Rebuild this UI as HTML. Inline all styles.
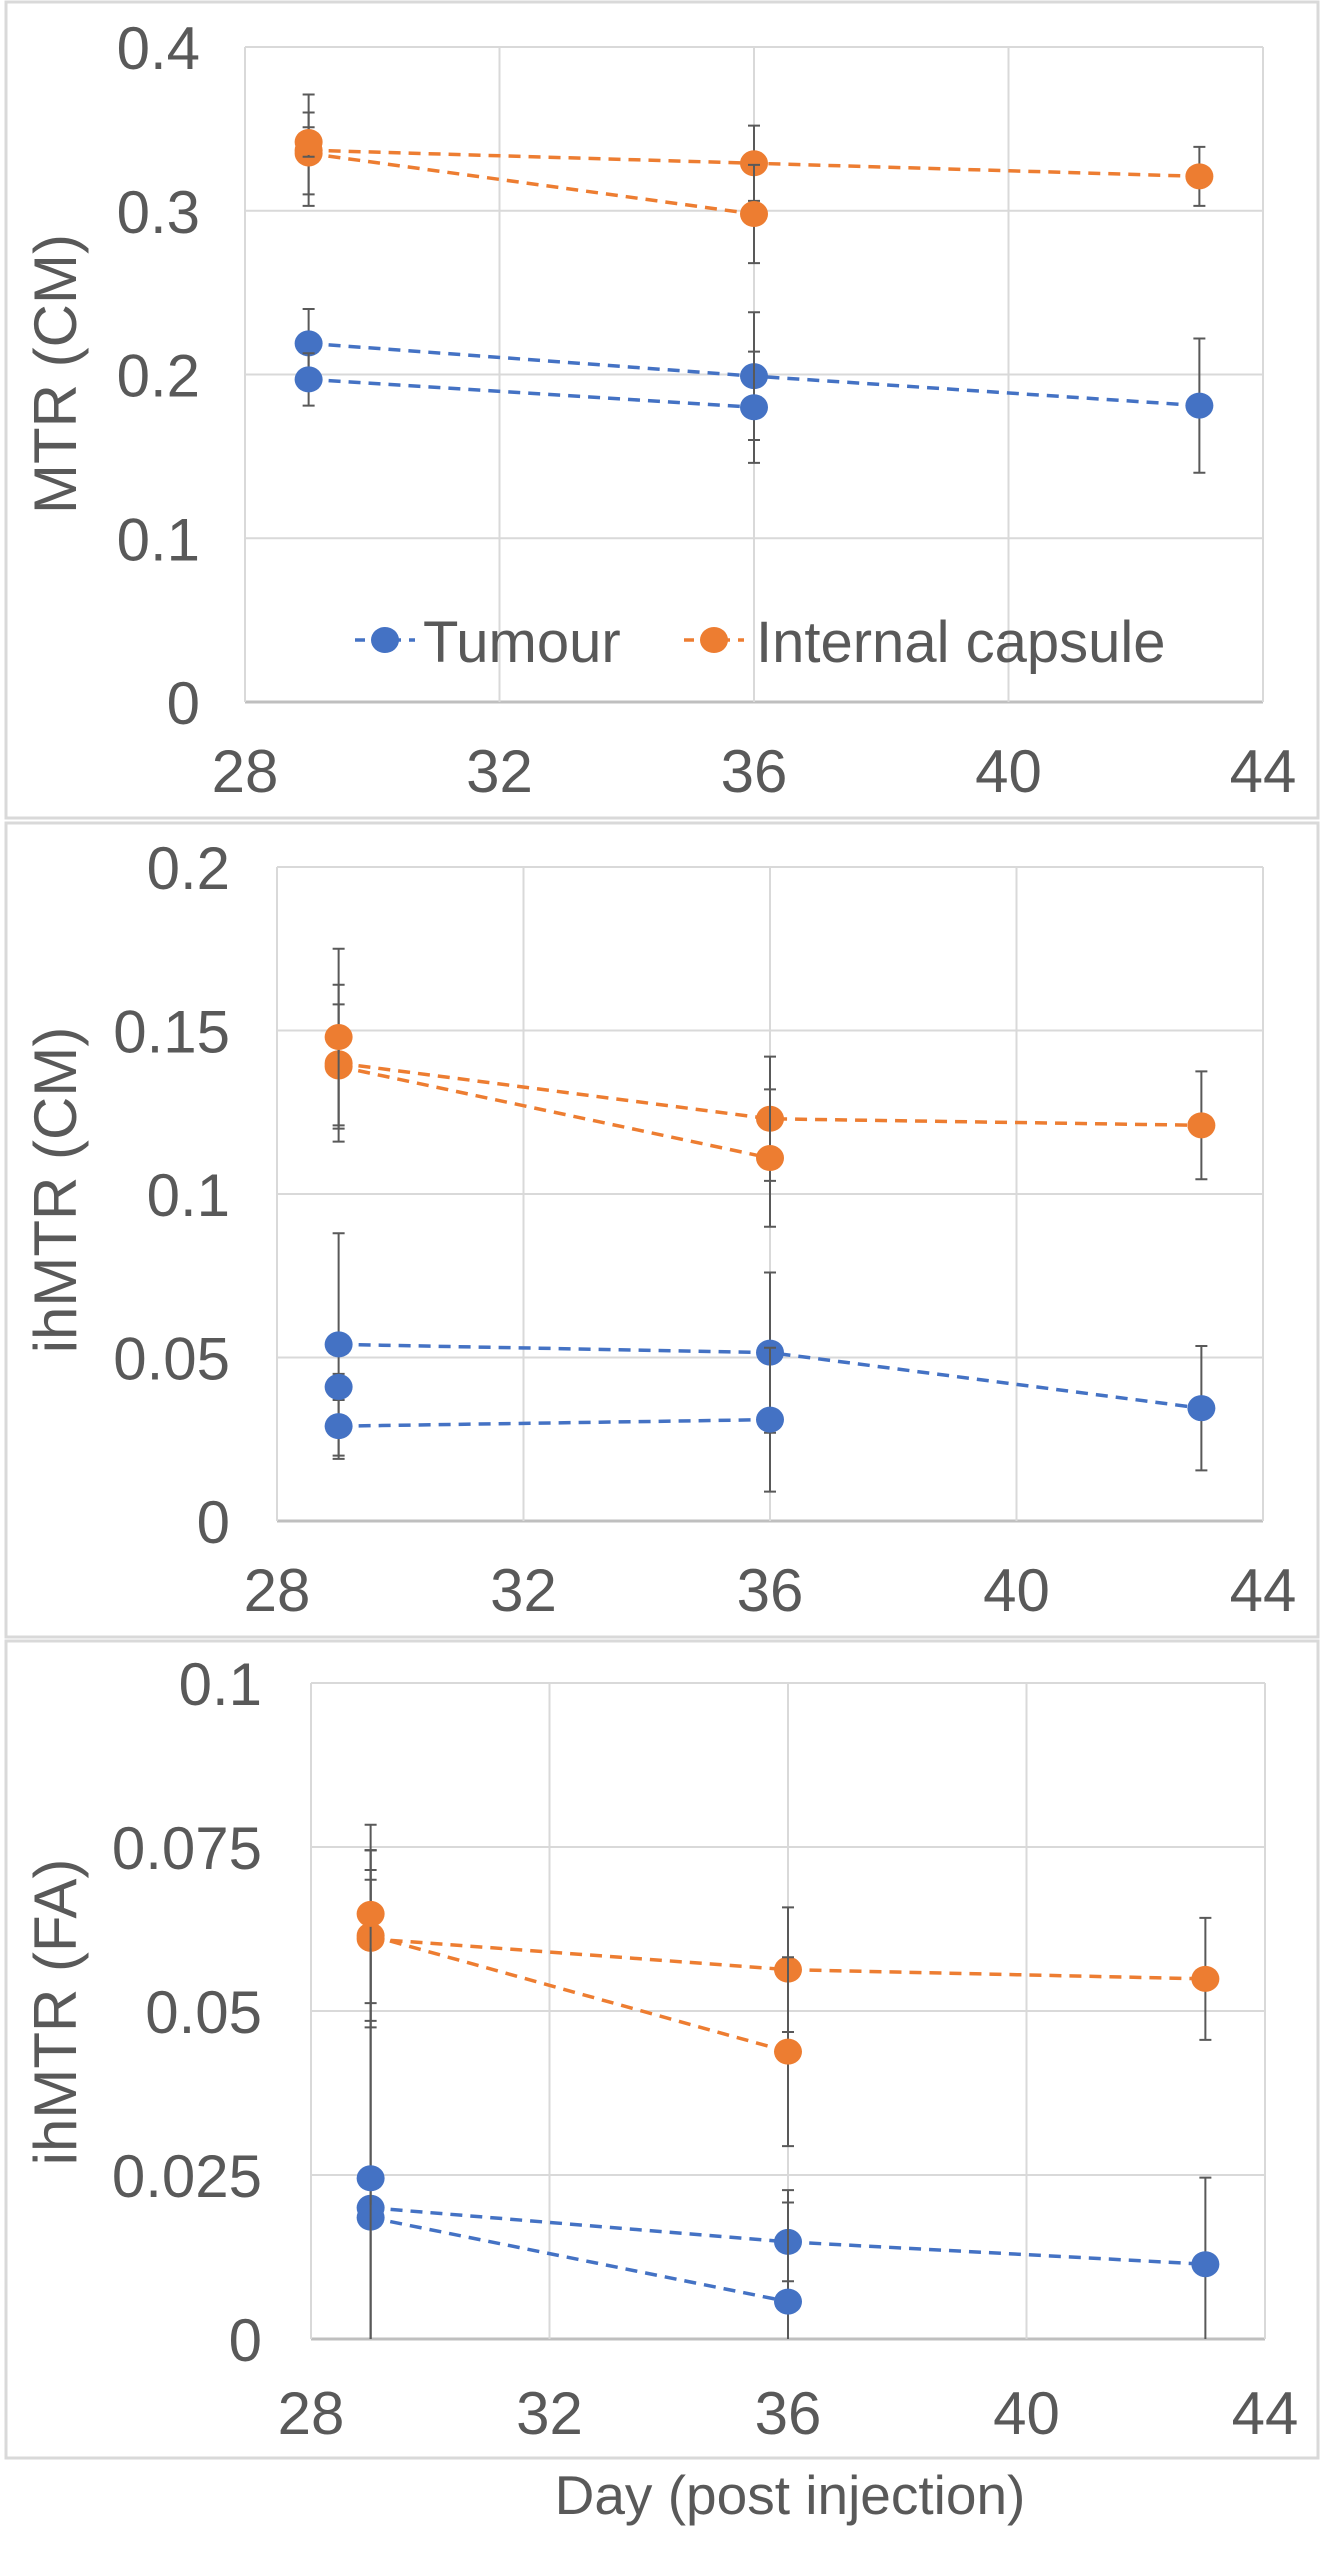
<!DOCTYPE html>
<html><head><meta charset="utf-8"><style>
html,body{margin:0;padding:0;background:#fff;}
svg{display:block;font-family:"Liberation Sans",Arial,sans-serif;}
</style></head><body>
<svg id="fig" width="1324" height="2557" viewBox="0 0 1324 2557">
<rect x="6" y="2" width="1312" height="816" fill="#fff" stroke="#d9d9d9" stroke-width="3"/>
<rect x="6" y="823" width="1312" height="814" fill="#fff" stroke="#d9d9d9" stroke-width="3"/>
<rect x="6" y="1641" width="1312" height="817" fill="#fff" stroke="#d9d9d9" stroke-width="3"/>
<text x="790" y="2514" font-size="55" fill="#595959" text-anchor="middle">Day (post injection)</text>
</svg>
<script>
const xTicks = [28, 32, 36, 40, 44];
const xTickLabels = ["28", "32", "36", "40", "44"];
const days = [29, 36, 43];

// Chart 1: MTR (CM)
const c1Ticks = [0, 0.1, 0.2, 0.3, 0.4];
const c1TickLabels = ["0", "0.1", "0.2", "0.3", "0.4"];
const c1TumourA = [0.219, 0.199, 0.181];
const c1TumourAErr = [0.021, 0.039, 0.041];
const c1TumourB = [0.197, 0.180];
const c1TumourBErr = [0.016, 0.034];
const c1CapsA = [0.337, 0.329, 0.321];
const c1CapsAErr = [0.034, 0.023, 0.018];
const c1CapsB = [0.335, 0.298];
const c1CapsBErr = [0.025, 0.030];
const c1CapsC = [0.342];
const c1CapsCErr = [0.009];

// Chart 2: ihMTR (CM)
const c2Ticks = [0, 0.05, 0.1, 0.15, 0.2];
const c2TickLabels = ["0", "0.05", "0.1", "0.15", "0.2"];
const c2TumourA = [0.054, 0.0515, 0.0345];
const c2TumourAErr = [0.034, 0.0245, 0.019];
const c2TumourB = [0.029, 0.031];
const c2TumourBErr = [0.010, 0.022];
const c2TumourC = [0.041];
const c2TumourCErr = [0.004];
const c2CapsA = [0.140, 0.123, 0.121];
const c2CapsAErr = [0.024, 0.019, 0.0165];
const c2CapsB = [0.139, 0.111];
const c2CapsBErr = [0.019, 0.021];
const c2CapsC = [0.148];
const c2CapsCErr = [0.027];

// Chart 3: ihMTR (FA)
const c3Ticks = [0, 0.025, 0.05, 0.075, 0.1];
const c3TickLabels = ["0", "0.025", "0.05", "0.075", "0.1"];
const c3TumourA = [0.020, 0.0148, 0.0114];
const c3TumourAErr = [0.050, 0.006, 0.0132];
const c3TumourB = [0.0185, 0.0057];
const c3TumourBErr = [0.053, 0.017];
const c3TumourC = [0.0245];
const c3TumourCErr = [0.050];
const c3CapsA = [0.0610, 0.0563, 0.0549];
const c3CapsAErr = [0.0135, 0.0095, 0.0093];
const c3CapsB = [0.0615, 0.0438];
const c3CapsBErr = [0.0130, 0.0144];
const c3CapsC = [0.0648];
const c3CapsCErr = [0.0136];

const BLUE = "#4472C4", ORANGE = "#ED7D31";
const NS = "http://www.w3.org/2000/svg";
const svg = document.getElementById("fig");
function mk(tag, attrs, parent) {
  const e = document.createElementNS(NS, tag);
  for (const k in attrs) e.setAttribute(k, attrs[k]);
  (parent || svg).appendChild(e);
  return e;
}

function drawChart(cfg) {
  const g = mk("g", {});
  
  
  const yMax = cfg.ticks[cfg.ticks.length - 1];
  const xs = v => cfg.left + (v - xTicks[0]) / (xTicks[xTicks.length - 1] - xTicks[0]) * (cfg.right - cfg.left);
  const ys = v => cfg.bottom - v / yMax * (cfg.bottom - cfg.top);
  const clip = v => Math.max(cfg.top, Math.min(cfg.bottom, v));
  cfg.ticks.forEach((t, i) => {
    const l = mk("line", {x1: cfg.left, x2: cfg.right, y1: ys(t), y2: ys(t), stroke: i === 0 ? "#bfbfbf" : "#d9d9d9", "stroke-width": i === 0 ? 3 : 2}, g);
    
    
    const tx = mk("text", {x: cfg.labelX, y: ys(t) + 22, "font-size": 60, fill: "#595959", "text-anchor": "end"}, g);
    tx.textContent = cfg.tickLabels[i];
    
    
  });
  xTicks.forEach((t, i) => {
    const l = mk("line", {x1: xs(t), x2: xs(t), y1: cfg.top, y2: cfg.bottom, stroke: "#d9d9d9", "stroke-width": 2}, g);
    
    
    const tx = mk("text", {x: xs(t), y: cfg.xLabelY, "font-size": 60, fill: "#595959", "text-anchor": "middle"}, g);
    tx.textContent = xTickLabels[i];
    
    
  });
  const yt = mk("text", {x: 0, y: 0, "font-size": 60, fill: "#595959", "text-anchor": "middle",
    transform: "translate(" + (cfg.titleX + 22) + "," + cfg.titleY + ") rotate(-90)"}, g);
  yt.textContent = cfg.title;
  
  
  cfg.series.forEach(s => {
    const sg = mk("g", {}, g);
    
    
    const pts = s.vals.map((v, i) => [xs(days[i]), ys(v)]);
    s.vals.forEach((v, i) => {
      const x = xs(days[i]);
      const hi = clip(ys(v + s.err[i])), lo = clip(ys(v - s.err[i]));
      const eb = mk("path", {d: "M" + x + " " + hi + "V" + lo + (ys(v + s.err[i]) >= cfg.top ? "M" + (x - 6) + " " + hi + "h12" : "") + (ys(v - s.err[i]) <= cfg.bottom ? "M" + (x - 6) + " " + lo + "h12" : ""), stroke: "#595959", "stroke-width": 2, fill: "none"}, sg);
      
      
    });
    if (pts.length > 1) {
      const ln = mk("polyline", {points: pts.map(p => p.join(",")).join(" "), fill: "none", stroke: s.color, "stroke-width": 3.5, "stroke-dasharray": "12 8"}, sg);
      
      
    }
    pts.forEach(p => {
      const c = mk("ellipse", {cx: p[0], cy: p[1], rx: 14, ry: 13, fill: s.color}, sg);
      
      
    });
  });
  return {g, xs, ys};
}

drawChart({name: "chart-mtr-cm", left: 245, right: 1263, top: 47, bottom: 702, labelX: 200, xLabelY: 792,
  ticks: c1Ticks, tickLabels: c1TickLabels, title: "MTR (CM)", titleX: 54, titleY: 374,
  series: [
    {name: "tumour-series-a", color: BLUE, vals: c1TumourA, err: c1TumourAErr},
    {name: "tumour-series-b", color: BLUE, vals: c1TumourB, err: c1TumourBErr},
    {name: "capsule-series-a", color: ORANGE, vals: c1CapsA, err: c1CapsAErr},
    {name: "capsule-series-b", color: ORANGE, vals: c1CapsB, err: c1CapsBErr},
    {name: "capsule-series-c", color: ORANGE, vals: c1CapsC, err: c1CapsCErr}
  ]});

drawChart({name: "chart-ihmtr-cm", left: 277, right: 1263, top: 867, bottom: 1521, labelX: 230, xLabelY: 1611,
  ticks: c2Ticks, tickLabels: c2TickLabels, title: "ihMTR (CM)", titleX: 54, titleY: 1190,
  series: [
    {name: "tumour-series-a", color: BLUE, vals: c2TumourA, err: c2TumourAErr},
    {name: "tumour-series-b", color: BLUE, vals: c2TumourB, err: c2TumourBErr},
    {name: "tumour-series-c", color: BLUE, vals: c2TumourC, err: c2TumourCErr},
    {name: "capsule-series-a", color: ORANGE, vals: c2CapsA, err: c2CapsAErr},
    {name: "capsule-series-b", color: ORANGE, vals: c2CapsB, err: c2CapsBErr},
    {name: "capsule-series-c", color: ORANGE, vals: c2CapsC, err: c2CapsCErr}
  ]});

drawChart({name: "chart-ihmtr-fa", left: 311, right: 1265, top: 1683, bottom: 2339, labelX: 262, xLabelY: 2434,
  ticks: c3Ticks, tickLabels: c3TickLabels, title: "ihMTR (FA)", titleX: 54, titleY: 2012,
  series: [
    {name: "tumour-series-a", color: BLUE, vals: c3TumourA, err: c3TumourAErr},
    {name: "tumour-series-b", color: BLUE, vals: c3TumourB, err: c3TumourBErr},
    {name: "tumour-series-c", color: BLUE, vals: c3TumourC, err: c3TumourCErr},
    {name: "capsule-series-a", color: ORANGE, vals: c3CapsA, err: c3CapsAErr},
    {name: "capsule-series-b", color: ORANGE, vals: c3CapsB, err: c3CapsBErr},
    {name: "capsule-series-c", color: ORANGE, vals: c3CapsC, err: c3CapsCErr}
  ]});

const lg = mk("g", {});


[[355, BLUE, "Tumour", 423, 'legend-entry-tumour'], [684, ORANGE, "Internal capsule", 756, 'legend-entry-internal-capsule']].forEach(e => {
  const eg = mk("g", {}, lg);
  
  
  mk("line", {x1: e[0], x2: e[0] + 60, y1: 640, y2: 640, stroke: e[1], "stroke-width": 3.5, "stroke-dasharray": "10 8"}, eg);
  mk("ellipse", {cx: e[0] + 30, cy: 640, rx: 14, ry: 13, fill: e[1]}, eg);
  const t = mk("text", {x: e[3], y: 662, "font-size": 58, fill: "#595959"}, eg);
  t.textContent = e[2];
});
</script>
</body></html>
